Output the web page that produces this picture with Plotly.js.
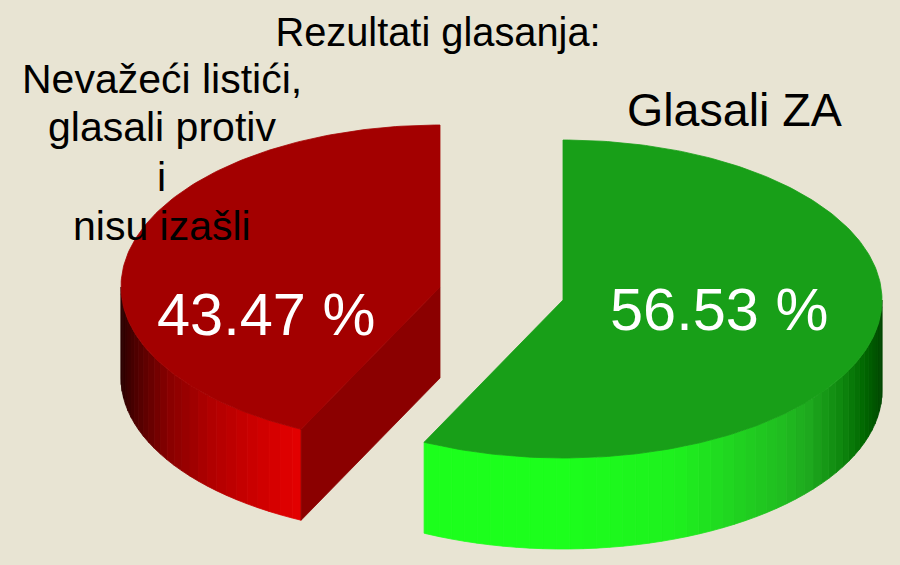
<!DOCTYPE html>
<html>
<head>
<meta charset="utf-8">
<script src="https://cdn.plot.ly/plotly-3.0.1.min.js"></script>
<style>html,body{margin:0;padding:0;background:#E8E4D3}</style>
</head>
<body>
<div id="chart" style="width:900px;height:565px"></div>
<script>
// Data
const categoryLines = ["Nevažeći listići,", "glasali protiv", "i", "nisu izašli"];
const categoryLineY = [79, 127, 177, 226];
const greenCategory = "Glasali ZA";
const values = [43.47, 56.53];
const valueLabels = ["43.47 %", "56.53 %"];
const chartTitle = "Rezultati glasanja:";

// Projection of the tilted, exploded 3D pie onto the page
const BG = "#E8E4D3";
const RX = 319, RY_UP = [162, 160], RY_DOWN = 158, DEPTH = 91;
const CENTER = [[440, 287], [563, 300]];
const TOP = ["#A30000", "#189F18"];
const CUT = "#8B0000";
const SKEW = 2.3;      // perspective shift of the shared slice boundary, degrees
const WALL = [
  [[1.0,[42,0,0]],[0.95,[80,0,0]],[0.85,[136,0,0]],[0.72,[176,0,0]],[0.6,[200,0,0]],[0.44,[228,0,0]]],
  [[1.0,[0,70,0]],[0.95,[0,100,0]],[0.878,[13,133,13]],[0.774,[30,168,30]],[0.67,[32,192,32]],[0.51,[32,216,32]],[0.357,[30,240,30]],[0,[28,255,28]],[-1,[28,255,28]]]
];

const rad = d => d * Math.PI / 180;
function rim(i, deg, dz) {           // deg = clockwise from top on the screen
  const c = CENTER[i], cs = Math.cos(rad(deg));
  return [c[0] + RX * Math.sin(rad(deg)), c[1] - (cs > 0 ? RY_UP[i] : RY_DOWN) * cs + dz];
}
function shade(i, s) {
  const st = WALL[i];
  for (let k = 0; k < st.length - 1; k++) {
    if (s <= st[k][0] && s >= st[k + 1][0]) {
      const t = (st[k][0] - s) / (st[k][0] - st[k + 1][0]);
      const c = st[k][1].map((v, j) => Math.round(v + (st[k + 1][1][j] - v) * t));
      return "rgb(" + c.join(",") + ")";
    }
  }
  const c = st[st.length - 1][1];
  return "rgb(" + c.join(",") + ")";
}
function poly(pts, color) {
  const xs = pts.map(p => p[0]), ys = pts.map(p => p[1]);
  xs.push(xs[0]); ys.push(ys[0]);
  return {type: "scatter", mode: "lines", x: xs, y: ys, fill: "toself", fillcolor: color,
          line: {color: color, width: 0.8}, hoverinfo: "skip", showlegend: false};
}

const total = values[0] + values[1];
const sweepRed = values[0] / total * 360 - SKEW;
const sweepGreen = values[1] / total * 360 + SKEW;
const traces = [];

// red slice: runs anticlockwise from the top
const redEnd = -sweepRed;
for (let a = -90; a > redEnd; a -= 2.4) {
  const b = Math.max(a - 2.4, redEnd);
  const s = Math.abs(Math.sin(rad((a + b) / 2)));
  traces.push(poly([rim(0, a, 0), rim(0, b, 0), rim(0, b, DEPTH), rim(0, a, DEPTH)], shade(0, s)));
}
const redCorner = rim(0, redEnd, 0);
traces.push(poly([CENTER[0], redCorner, [redCorner[0], redCorner[1] + DEPTH], [CENTER[0][0], CENTER[0][1] + DEPTH]], CUT));
const redTop = [CENTER[0]];
for (let a = 0; a >= redEnd; a -= 1) redTop.push(rim(0, a, 0));
redTop.push(redCorner);
traces.push(poly(redTop, TOP[0]));

// green slice: runs clockwise from the top
for (let a = 90; a < sweepGreen; a += 2.4) {
  const b = Math.min(a + 2.4, sweepGreen);
  const s = Math.sin(rad((a + b) / 2));
  traces.push(poly([rim(1, a, 0), rim(1, b, 0), rim(1, b, DEPTH), rim(1, a, DEPTH)], shade(1, s)));
}
const greenTop = [CENTER[1]];
for (let a = 0; a <= sweepGreen; a += 1) greenTop.push(rim(1, a, 0));
greenTop.push(rim(1, sweepGreen, 0));
traces.push(poly(greenTop, TOP[1]));

const font = "'Liberation Sans', Arial, sans-serif";
const note = (x, y, text, size, color) => ({x, y, xref: "x", yref: "y", text, showarrow: false, align: "center",
  xanchor: "center", yanchor: "middle", font: {family: font, size, color}});
const layout = {
  width: 900, height: 565,
  margin: {l: 0, r: 0, t: 0, b: 0},
  paper_bgcolor: BG, plot_bgcolor: BG,
  showlegend: false, hovermode: false,
  title: {text: chartTitle, x: 438 / 900, xanchor: "center", y: 1 - 32.5 / 565, yanchor: "middle",
          font: {family: font, size: 39.8, color: "#000"}},
  xaxis: {range: [0, 900], visible: false, fixedrange: true},
  yaxis: {range: [565, 0], visible: false, fixedrange: true},
  annotations: categoryLines.map((t, i) => note(161.5, categoryLineY[i], t, 41, "#000")).concat([
    note(734.5, 110, greenCategory, 46.6, "#000"),
    note(265.5, 314, valueLabels[0], 59.5, "#fff"),
    note(718.5, 309, valueLabels[1], 59.5, "#fff")
  ])
};
Plotly.newPlot("chart", traces, layout, {displayModeBar: false, staticPlot: true});
</script>
</body>
</html>
